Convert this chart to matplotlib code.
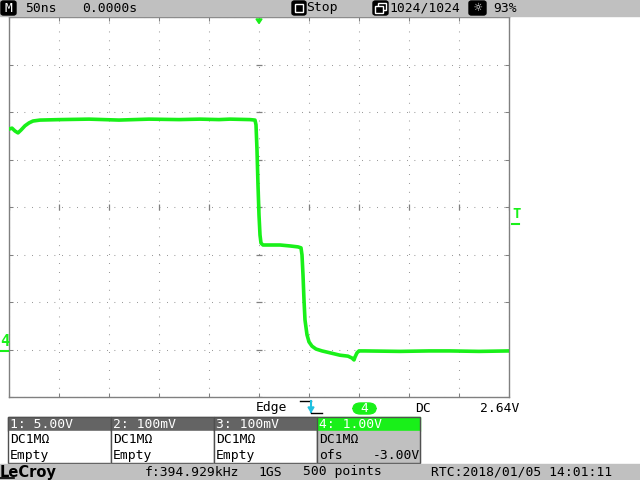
import numpy as np
import matplotlib.pyplot as plt
from matplotlib.patches import Rectangle, FancyBboxPatch, Polygon
from matplotlib.lines import Line2D

# channel 4 trace: time (ns from trigger) and volts
t_ns = [-250, -247, -244, -241, -238, -234, -230, -226, -219, -199, -170, -140,
        -110, -80, -59, -40, -29, -9, -4, -3, -2, -1, 0, 1, 2, 4, 11, 21, 31,
        39, 42, 43, 44, 45, 46, 48, 50, 53, 57, 63, 71, 81, 89, 93, 95, 96,
        98, 100, 106, 141, 170, 191, 220, 250]
volts = [4.64, 4.66, 4.60, 4.56, 4.62, 4.71, 4.77, 4.81, 4.83, 4.84, 4.85, 4.83,
         4.85, 4.84, 4.85, 4.84, 4.85, 4.84, 4.83, 4.73, 4.20, 3.46, 2.83, 2.41,
         2.24, 2.20, 2.20, 2.20, 2.18, 2.16, 2.14, 1.99, 1.57, 1.04, 0.62, 0.31,
         0.16, 0.07, 0.01, -0.03, -0.07, -0.12, -0.14, -0.18, -0.22, -0.16,
         -0.07, -0.03, -0.03, -0.04, -0.03, -0.03, -0.04, -0.03]

time_per_div = 50      # ns
volts_per_div = 1.0
ch4_offset = -3.0
trig_level = 2.64

top_items = ['50ns', '0.0000s', 'Stop', '1024/1024', '93%']
channels = [('1: 5.00V', 'DC1MΩ', 'Empty'),
            ('2: 100mV', 'DC1MΩ', 'Empty'),
            ('3: 100mV', 'DC1MΩ', 'Empty'),
            ('4: 1.00V', 'DC1MΩ', 'ofs')]
status = ['f:394.929kHz', '1GS', '500 points', 'RTC:2018/01/05 14:01:11']

GREEN = '#19f019'
GRAY = '#808080'
BAR = '#c0c0c0'
W, H = 640, 480

fig = plt.figure(figsize=(6.4, 4.8), dpi=100)
fig.patch.set_facecolor('white')


def fx(x):
    return x / W


def fy(y):
    return 1 - y / H


def box(x0, y0, x1, y1, **kw):
    fig.patches.append(Rectangle((fx(x0), fy(y1)), (x1 - x0) / W, (y1 - y0) / H,
                                 transform=fig.transFigure, **kw))


def rbox(x0, y0, x1, y1, color):
    fig.patches.append(FancyBboxPatch((fx(x0), fy(y1)), (x1 - x0) / W, (y1 - y0) / H,
                                      boxstyle='round,pad=0,rounding_size=0.004',
                                      transform=fig.transFigure, color=color))


def line(xs, ys, color, lw=1.0):
    fig.lines.append(Line2D([fx(x) for x in xs], [fy(y) for y in ys],
                            transform=fig.transFigure, color=color, lw=lw))


def label(x, y, s, color='black', ha='left', size=9.4, weight='normal'):
    fig.text(fx(x), fy(y), s, color=color, ha=ha, va='center', fontsize=size,
             family='DejaVu Sans Mono', fontweight=weight)


# top status bar
box(0, 0, 640, 16, color=BAR)
rbox(1, 1, 16, 15, 'black')
label(8.5, 8, 'M', color='white', ha='center')
label(25, 8, top_items[0])
label(82, 8, top_items[1])
rbox(292, 1, 306, 15, 'black')
box(295, 4, 303, 12, facecolor='none', edgecolor='white', lw=1)
label(306, 8, top_items[2])
rbox(373, 1, 388, 15, 'black')
box(378, 3, 386, 10, facecolor='black', edgecolor='white', lw=1)
box(375, 6, 383, 13, facecolor='black', edgecolor='white', lw=1)
label(389, 8, top_items[3])
rbox(469, 1, 486, 15, 'black')
label(477.5, 8, '☼', color='white', ha='center', size=10)
label(493, 8, top_items[4])

# graticule
ax = fig.add_axes([fx(9), fy(397), 500 / W, 380 / H])
ax.set_facecolor('white')
ax.plot(t_ns, volts, color=GREEN, lw=2.6, solid_joinstyle='round', zorder=5)
half_t = 5 * time_per_div
ax.set_xlim(-half_t, half_t)
v_lo = -4 * volts_per_div - ch4_offset
v_hi = 4 * volts_per_div - ch4_offset
ax.set_ylim(v_lo, v_hi)
xt = np.arange(-half_t, half_t + 1, time_per_div)
yt = np.arange(v_lo, v_hi + 0.01, volts_per_div)
ax.set_xticks(xt)
ax.set_yticks(yt)
ax.xaxis.grid(True, color=GRAY, lw=0.75, linestyle=(0, (0.75, 7.8)))
ax.yaxis.grid(True, color=GRAY, lw=0.75, linestyle=(0, (0.75, 6.45)))
ax.tick_params(direction='in', length=3, width=0.75, color=GRAY, top=True,
               right=True, labelleft=False, labelbottom=False)
v_mid = (v_lo + v_hi) / 2
ax.plot(np.zeros(len(yt)), yt, ls='none', marker='_', ms=5, mew=0.9, color=GRAY)
ax.plot(xt, np.full(len(xt), v_mid), ls='none', marker='|', ms=5, mew=0.9, color=GRAY)
for sp in ax.spines.values():
    sp.set_color(GRAY)
    sp.set_linewidth(1.0)

# trigger position, trigger level and channel ground markers
fig.patches.append(Polygon([(fx(256), fy(19)), (fx(262), fy(19)), (fx(259), fy(23.5))],
                           closed=True, transform=fig.transFigure, color=GREEN))
label(512, 214, 'T', color=GREEN, size=10, weight='bold')
line([512, 519], [224, 224], GREEN, lw=1.5)
label(0, 341, '4', color=GREEN, size=11, weight='bold')
line([1, 8], [351, 351], GREEN, lw=1.5)

# trigger row
label(256, 408, 'Edge')
line([300, 311], [401, 401], 'black')
line([311, 311], [401, 412], '#20c0e0', lw=1.5)
fig.patches.append(Polygon([(fx(308), fy(407)), (fx(314), fy(407)), (fx(311), fy(412))],
                           closed=True, transform=fig.transFigure, color='#20c0e0'))
line([311, 322], [413, 413], 'black')
fig.patches.append(FancyBboxPatch((fx(353), fy(414)), 23 / W, 11 / H,
                                  boxstyle='round,pad=0,rounding_size=0.012',
                                  transform=fig.transFigure, color=GREEN))
label(364.5, 408.5, '4', color='white', ha='center')
label(415, 408, 'DC')
label(519, 408, f'{trig_level:.2f}V', ha='right')

# channel boxes
for i, (head, coup, state) in enumerate(channels):
    x0 = 8 + i * 103
    x1 = x0 + 103
    active = i == 3
    box(x0, 417, x1, 431, color=GREEN if active else '#646464')
    box(x0, 431, x1, 463, color=BAR if active else 'white')
    box(x0, 417, x1, 463, facecolor='none', edgecolor='#505050', lw=1)
    label(x0 + 2, 424, head, color='white')
    label(x0 + 2, 439.5, coup)
    label(x0 + 2, 455.5, state)
label(420, 455.5, f'{ch4_offset:.2f}V', ha='right')

# bottom status bar
box(0, 464, 640, 480, color=BAR)
fig.text(fx(0), fy(472), 'LeCroy', fontsize=10.5, fontweight='bold',
         family='DejaVu Sans', va='center', ha='left')
line([0, 14], [478, 478], 'black', lw=1.2)
label(145, 472, status[0])
label(258, 472, status[1])
label(303, 472, status[2])
label(431, 472, status[3])

fig.savefig('out.png', dpi=100)
